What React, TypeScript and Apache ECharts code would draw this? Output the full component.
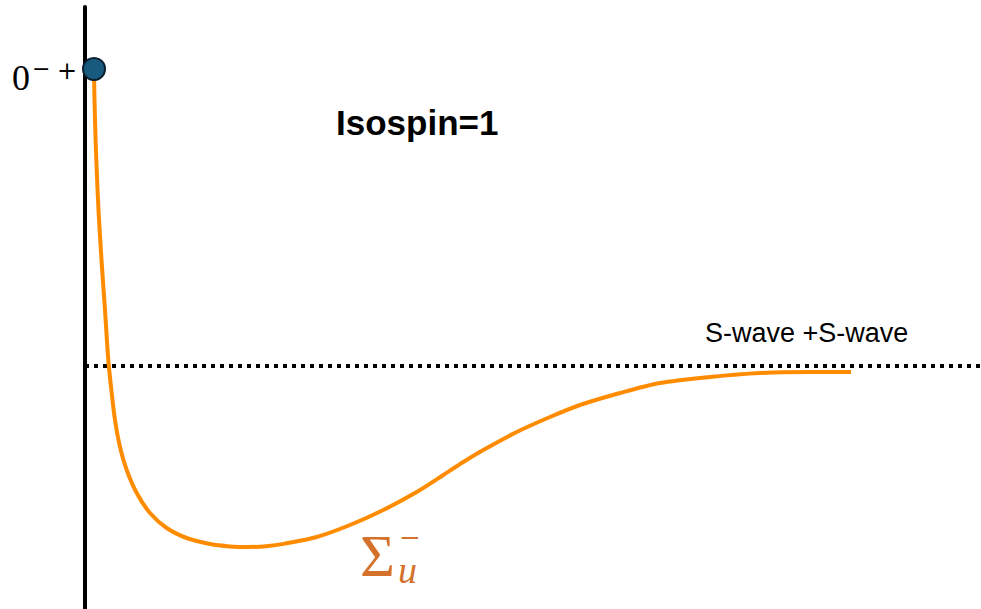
import React, { useEffect, useRef } from "react";
import * as echarts from "echarts";

// Potential curve (x: separation units, y: energy units, threshold = 0)
const curveX = [9, 9.5, 10.3, 11.3, 13.5, 16.5, 20, 23.3, 26.7, 30, 35, 41.7, 51.7, 65, 81.7, 101.7, 125, 145, 163, 181, 200, 231.7, 265, 298.3, 331.7, 358.3, 378.3, 398.3, 431.7, 465, 495, 535, 575, 625, 675, 725, 766];
const curveY = [296, 266, 236, 206, 156, 106, 56, 6, -27, -54, -81, -104, -127, -147, -162, -172, -178, -180.4, -181, -180.2, -177.6, -171, -159, -144, -126, -109, -96, -84, -66, -51, -39, -27, -17, -11, -7, -6, -6];
const dotPoint = [9, 297];
const thresholdY = 0;
const xRange = [0, 896];
const yRange = [-243, 359];

const titleText = "Isospin=1";
const thresholdText = "S-wave +S-wave";

export default function App() {
  const ref = useRef<HTMLDivElement>(null);
  useEffect(() => {
    if (!ref.current) return;
    const chart = echarts.init(ref.current, null, { renderer: "svg" });
    const curve = curveX.map((x, i) => [x, curveY[i]]);
    const orange = "#FF8C00";
    const sigmaColor = "#D4722B";
    chart.setOption({
      animation: false,
      backgroundColor: "#ffffff",
      grid: { left: 85, right: 0, top: 7, bottom: 0 },
      xAxis: {
        type: "value",
        min: xRange[0],
        max: xRange[1],
        show: false,
      },
      yAxis: {
        type: "value",
        min: yRange[0],
        max: yRange[1],
        axisLine: { show: true, lineStyle: { color: "#000", width: 4 } },
        axisTick: { show: false },
        axisLabel: { show: false },
        splitLine: { show: false },
      },
      series: [
        {
          type: "line",
          data: curve,
          smooth: 0.3,
          showSymbol: false,
          clip: false,
          lineStyle: { color: orange, width: 4 },
          z: 3,
          markLine: {
            silent: true,
            symbol: ["none", "none"],
            label: { show: false },
            lineStyle: { color: "#000", width: 4, type: [4, 5] },
            data: [{ yAxis: thresholdY }],
            z: 2,
          },
        },
        {
          type: "scatter",
          data: [dotPoint],
          symbol: "circle",
          symbolSize: 22,
          clip: false,
          itemStyle: { color: "#185A7D", borderColor: "#0A1F2E", borderWidth: 2, opacity: 1 },
          z: 5,
        },
      ],
      graphic: [
        {
          type: "text",
          x: 336,
          y: 122.5,
          style: {
            text: titleText,
            font: "bold 35px 'Liberation Sans', Arial, sans-serif",
            fill: "#000",
            verticalAlign: "middle",
          },
        },
        {
          type: "text",
          x: 705,
          y: 332.5,
          style: {
            text: thresholdText,
            font: "27px 'Liberation Sans', Arial, sans-serif",
            fill: "#000",
            verticalAlign: "middle",
          },
        },
        {
          type: "text",
          x: 12,
          y: 77.5,
          style: {
            text: "0",
            font: "36px 'Liberation Serif', 'Times New Roman', serif",
            fill: "#000",
            verticalAlign: "middle",
          },
        },
        {
          type: "text",
          x: 32,
          y: 68,
          style: {
            text: "\u2212",
            font: "22px 'DejaVu Serif', serif",
            fill: "#000",
            verticalAlign: "middle",
          },
        },
        {
          type: "text",
          x: 57,
          y: 71,
          style: {
            text: "+",
            font: "24px 'DejaVu Serif', serif",
            fill: "#000",
            verticalAlign: "middle",
          },
        },
        {
          type: "text",
          x: 360,
          y: 556,
          style: {
            text: "\u03A3",
            font: "60px 'Liberation Serif', 'Times New Roman', serif",
            fill: sigmaColor,
            verticalAlign: "middle",
          },
        },
        {
          type: "text",
          x: 399,
          y: 537,
          style: {
            text: "\u2212",
            font: "26px 'DejaVu Serif', serif",
            fill: sigmaColor,
            verticalAlign: "middle",
          },
        },
        {
          type: "text",
          x: 398,
          y: 570,
          style: {
            text: "u",
            font: "italic 38px 'Liberation Serif', 'Times New Roman', serif",
            fill: sigmaColor,
            verticalAlign: "middle",
          },
        },
      ],
    });
    return () => chart.dispose();
  }, []);
  return (
    <div
      ref={ref}
      style={{ position: "absolute", left: 0, top: 0, width: 981, height: 609 }}
    />
  );
}
